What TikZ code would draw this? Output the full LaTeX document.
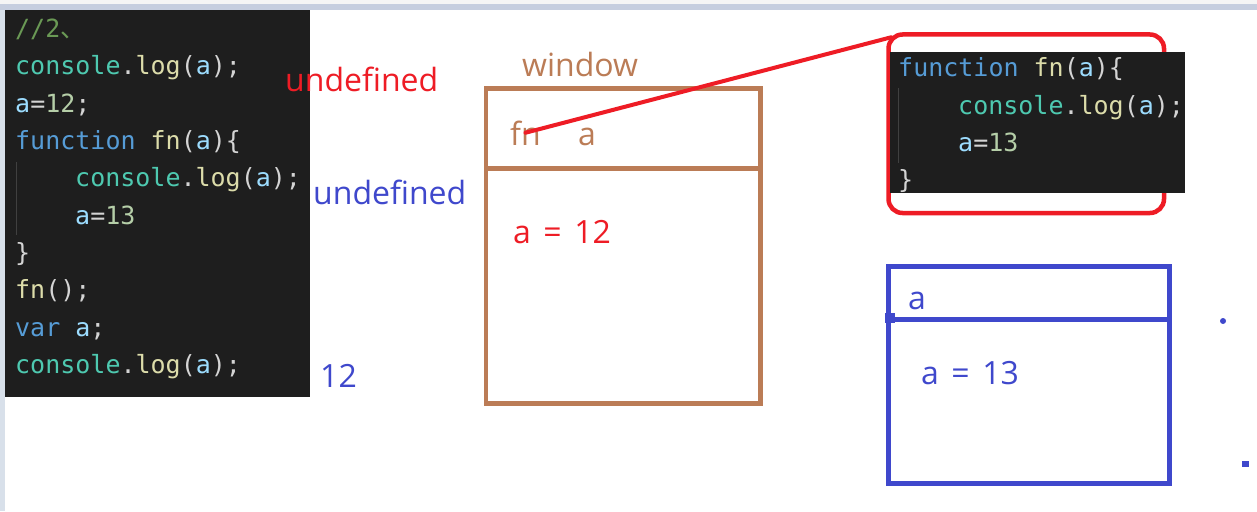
\documentclass[tikz,border=0pt]{standalone}
\usepackage{fontspec}
\setmainfont{Open Sans}
\setmonofont{DejaVu Sans Mono}
\newfontfamily\cjk{Noto Sans CJK SC}
\usepackage{xcolor}
\usepackage{tikz}

\definecolor{codebg}{HTML}{1E1E1E}
\definecolor{cwhite}{HTML}{D4D4D4}
\definecolor{cgreen}{HTML}{6A9955}
\definecolor{cteal}{HTML}{4EC9B0}
\definecolor{cyellow}{HTML}{DCDCAA}
\definecolor{cvar}{HTML}{9CDCFE}
\definecolor{cnum}{HTML}{B5CEA8}
\definecolor{ckw}{HTML}{569CD6}
\definecolor{cguide}{HTML}{404040}
\definecolor{brownink}{HTML}{BB7C56}
\definecolor{redink}{HTML}{EE1C25}
\definecolor{blueink}{HTML}{3F48CC}
\definecolor{topbar}{HTML}{C6CEDF}
\definecolor{sidebar}{HTML}{D8E0EA}

\newcommand{\cnsl}{\textcolor{cteal}{console}.\textcolor{cyellow}{log}(\textcolor{cvar}{a});}
\newcommand{\fnhead}{\textcolor{ckw}{function} \textcolor{cyellow}{fn}(\textcolor{cvar}{a})\{}
\newcommand{\wsp}{\hspace{12.5pt}}

\tikzset{
  code/.style={font=\ttfamily\fontsize{25}{30}\selectfont, text=cwhite, inner sep=0pt, anchor=base west},
  lbl/.style={font=\fontsize{32}{36}\selectfont, inner sep=0pt, anchor=base west},
  panel/.style={fill=codebg, draw=none},
  guide/.style={draw=cguide, line width=1pt}
}

\begin{document}
\begin{tikzpicture}[x=1pt,y=-1pt]
    \useasboundingbox (0,0) rectangle (1257,511);
    % window chrome
    \fill[white] (0,0) rectangle (1257,511);
    \fill[black!4] (0,0) rectangle (1257,4);
    \fill[topbar] (0,4) rectangle (1257,10);
    \fill[sidebar] (0,10) rectangle (5,511);

    % code on the left
    \fill[panel] (5,10) rectangle (310,397);
    \draw[guide] (16,162) -- (16,235);
    \node[code] (c1) at (15,37.5) {\textcolor{cgreen}{//2{\cjk 、}}};
    \node[code] (c2) at (15,74.8) {\cnsl};
    \node[code] (c3) at (15,112) {\textcolor{cvar}{a}=\textcolor{cnum}{12};};
    \node[code] (c4) at (15,149.4) {\fnhead};
    \node[code] (c5) at (75,186.7) {\cnsl};
    \node[code] (c6) at (75,224) {\textcolor{cvar}{a}=\textcolor{cnum}{13}};
    \node[code] (c7) at (15,261.3) {\}};
    \node[code] (c8) at (15,298.6) {\textcolor{cyellow}{fn}();};
    \node[code] (c9) at (15,336) {\textcolor{ckw}{var} \textcolor{cvar}{a};};
    \node[code] (c10) at (15,373.3) {\cnsl};

    % outputs
    \node[lbl, text=redink] (out1) at (285,92) {undefined};
    \node[lbl, text=blueink] (out2) at (313,204) {undefined};
    \node[lbl, text=blueink] (out3) at (320,387) {12};

    % window scope
    \node[lbl, text=brownink] (winlbl) at (522,77) {window};
    \draw[brownink, line width=4.5pt] (486,88.5) rectangle (760.5,403.5);
    \draw[brownink, line width=4.5pt] (486,168.5) -- (760.5,168.5);
    \node[lbl, text=brownink] (fnlbl) at (510,145) {fn};
    \node[lbl, text=brownink] (albl) at (578,145) {a};
    \node[lbl, text=redink] (aval) at (513,243) {a\wsp=\wsp12};

    % function fn
    \node[draw=redink, line width=4.5pt, rounded corners=14pt, minimum width=275.5pt, minimum height=178.5pt, inner sep=0pt] (fnbox) at (1026.25,123.75) {};
    \fill[panel] (890,52) rectangle (1185,193);
    \draw[guide] (898,88) -- (898,163);
    \node[code] (f1) at (898,77) {\fnhead};
    \node[code] (f2) at (958,114) {\cnsl};
    \node[code] (f3) at (958,151) {\textcolor{cvar}{a}=\textcolor{cnum}{13}};
    \node[code] (f4) at (898,188) {\}};
    \draw[redink, line width=4pt, line cap=round] (fnlbl.center) -- ([shift={(5,5)}]fnbox.north west);

    % fn scope
    \draw[blueink, line width=5pt] (888.5,266.5) rectangle (1169.5,483.5);
    \draw[blueink, line width=5pt] (888.5,319) -- (1169.5,319);
    \node[lbl, text=blueink] (fnalbl) at (908,309) {a};
    \node[lbl, text=blueink] (fnaval) at (921,384) {a\wsp=\wsp13};
    \fill[blueink] (885,313) rectangle (895,323);
    \fill[blueink] (1223,321) circle (3pt);
    \fill[blueink] (1242,461) rectangle (1249,467);
  \end{tikzpicture}
\end{document}
